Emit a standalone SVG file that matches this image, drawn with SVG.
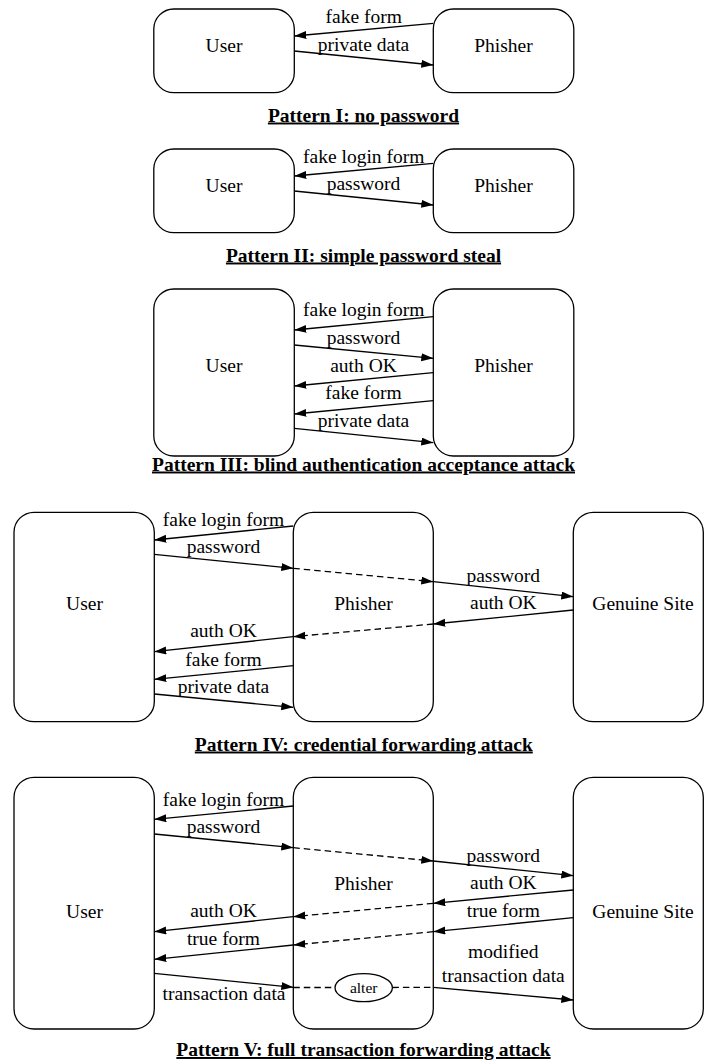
<svg xmlns="http://www.w3.org/2000/svg" width="704" height="1062" viewBox="0 0 704 1062">
<style>
  .box { fill: #fff; stroke: #000; stroke-width: 1.3; }
  .t { font-family: "Liberation Serif", "Times New Roman", serif; font-size: 19.5px; fill: #000; text-anchor: middle; }
  .title { font-family: "Liberation Serif", "Times New Roman", serif; font-size: 19.5px; font-weight: bold; fill: #000; text-anchor: middle; text-decoration: underline; }
  .small { font-family: "Liberation Serif", "Times New Roman", serif; font-size: 15.5px; fill: #000; text-anchor: middle; }
  .a { stroke: #000; stroke-width: 1.3; fill: none; marker-end: url(#ah); }
  .s { stroke: #000; stroke-width: 1.3; fill: none; }
  .d { stroke: #000; stroke-width: 1.3; fill: none; stroke-dasharray: 6.5 4; }
  .da { stroke: #000; stroke-width: 1.3; fill: none; stroke-dasharray: 6.5 4; marker-end: url(#ah); }
</style>
<defs>
  <marker id="ah" markerUnits="userSpaceOnUse" markerWidth="13" markerHeight="9" refX="12" refY="4" orient="auto">
    <path d="M0,0 L12,4 L0,8 Z" fill="#000"/>
  </marker>
</defs>
<rect width="704" height="1062" fill="#fff"/>

<!-- Pattern I -->
<g id="p1-user"><rect class="box" x="153.8" y="9" width="140.5" height="83.7" rx="20"/><text class="t" x="224" y="52">User</text></g>
<g id="p1-phisher"><rect class="box" x="433.3" y="9" width="140.5" height="83.7" rx="20"/><text class="t" x="503.5" y="52">Phisher</text></g>
<g id="p1-connectors">
  <line class="a" x1="433.3" y1="23.3" x2="294.3" y2="36"/>
  <line class="a" x1="294.3" y1="51" x2="433.3" y2="65"/>
  <text class="t" x="363.7" y="22.5">fake form</text>
  <text class="t" x="363.5" y="50.5">private data</text>
</g>
<text class="title" x="363.5" y="121.5">Pattern I: no password</text>

<!-- Pattern II -->
<g id="p2-user"><rect class="box" x="153.8" y="149" width="140.5" height="83.7" rx="20"/><text class="t" x="224" y="192">User</text></g>
<g id="p2-phisher"><rect class="box" x="433.3" y="149" width="140.5" height="83.7" rx="20"/><text class="t" x="503.5" y="192">Phisher</text></g>
<g id="p2-connectors">
  <line class="a" x1="433.3" y1="163.3" x2="294.3" y2="176"/>
  <line class="a" x1="294.3" y1="191" x2="433.3" y2="205"/>
  <text class="t" x="363.7" y="162.5">fake login form</text>
  <text class="t" x="363.5" y="190">password</text>
</g>
<text class="title" x="363.5" y="261.5">Pattern II: simple password steal</text>

<!-- Pattern III -->
<g id="p3-user"><rect class="box" x="153.8" y="289" width="140.5" height="167" rx="20"/><text class="t" x="224" y="372.3">User</text></g>
<g id="p3-phisher"><rect class="box" x="433.3" y="289" width="140.5" height="167" rx="20"/><text class="t" x="503.5" y="372.3">Phisher</text></g>
<g id="p3-connectors">
  <line class="a" x1="433.3" y1="316.7" x2="294.3" y2="330"/>
  <line class="a" x1="294.3" y1="345" x2="433.3" y2="358.3"/>
  <line class="a" x1="433.3" y1="372.7" x2="294.3" y2="386"/>
  <line class="a" x1="433.3" y1="400.7" x2="294.3" y2="414"/>
  <line class="a" x1="294.3" y1="428.3" x2="433.3" y2="442.7"/>
  <text class="t" x="363.7" y="316">fake login form</text>
  <text class="t" x="363.5" y="344">password</text>
  <text class="t" x="363.5" y="372.3">auth OK</text>
  <text class="t" x="363.5" y="399.3">fake form</text>
  <text class="t" x="363.5" y="426.7">private data</text>
</g>
<text class="title" x="363.5" y="470.5">Pattern III: blind authentication acceptance attack</text>

<!-- Pattern IV -->
<g id="p4-user"><rect class="box" x="14" y="512.3" width="140.3" height="209.4" rx="20"/><text class="t" x="84.5" y="610">User</text></g>
<g id="p4-phisher"><rect class="box" x="293.3" y="512.3" width="140" height="209.4" rx="20"/><text class="t" x="363.5" y="610">Phisher</text></g>
<g id="p4-genuine"><rect class="box" x="573.3" y="512.3" width="130" height="209.4" rx="20"/><text class="t" x="643" y="610">Genuine Site</text></g>
<g id="p4-connectors">
  <line class="a" x1="293.3" y1="526" x2="154.3" y2="540"/>
  <line class="a" x1="154.3" y1="554.3" x2="293.3" y2="568.3"/>
  <line class="da" x1="293.3" y1="568.3" x2="433.3" y2="581.7"/>
  <line class="a" x1="433.3" y1="581.7" x2="573.3" y2="596.7"/>
  <line class="a" x1="573.3" y1="610" x2="433.3" y2="624"/>
  <line class="da" x1="433.3" y1="624" x2="293.3" y2="636.7"/>
  <line class="a" x1="293.3" y1="636.7" x2="154.3" y2="651.7"/>
  <line class="a" x1="293.3" y1="665.7" x2="154.3" y2="679.3"/>
  <line class="a" x1="154.3" y1="694" x2="293.3" y2="707.3"/>
  <text class="t" x="223.5" y="525.7">fake login form</text>
  <text class="t" x="223.5" y="553.3">password</text>
  <text class="t" x="503.3" y="581.7">password</text>
  <text class="t" x="503.3" y="609.3">auth OK</text>
  <text class="t" x="223.5" y="637.3">auth OK</text>
  <text class="t" x="223.5" y="665.7">fake form</text>
  <text class="t" x="223.5" y="693.3">private data</text>
</g>
<text class="title" x="363.8" y="750.5">Pattern IV: credential forwarding attack</text>

<!-- Pattern V -->
<g id="p5-user"><rect class="box" x="14" y="777.3" width="140.3" height="251.7" rx="20"/><text class="t" x="84.5" y="918.3">User</text></g>
<g id="p5-phisher"><rect class="box" x="293.3" y="777.3" width="140" height="251.7" rx="20"/><text class="t" x="363.5" y="890">Phisher</text></g>
<g id="p5-genuine"><rect class="box" x="573.3" y="777.3" width="130" height="251.7" rx="20"/><text class="t" x="643" y="918.3">Genuine Site</text></g>
<g id="p5-alter"><ellipse class="box" cx="363.7" cy="987.7" rx="28.7" ry="14"/><text class="small" x="363.7" y="992.5">alter</text></g>
<g id="p5-connectors">
  <line class="a" x1="293.3" y1="806" x2="154.3" y2="819.3"/>
  <line class="a" x1="154.3" y1="834" x2="293.3" y2="847.7"/>
  <line class="da" x1="293.3" y1="847.7" x2="433.3" y2="861"/>
  <line class="a" x1="433.3" y1="861" x2="573.3" y2="875.7"/>
  <line class="a" x1="573.3" y1="890" x2="433.3" y2="903.3"/>
  <line class="da" x1="433.3" y1="903.3" x2="293.3" y2="916.7"/>
  <line class="a" x1="293.3" y1="916.7" x2="154.3" y2="931.7"/>
  <line class="a" x1="573.3" y1="917.7" x2="433.3" y2="931.7"/>
  <line class="da" x1="433.3" y1="931.7" x2="293.3" y2="945"/>
  <line class="a" x1="293.3" y1="945" x2="154.3" y2="959.3"/>
  <line class="a" x1="154.3" y1="973.3" x2="293.3" y2="987.3"/>
  <line class="d" x1="293.3" y1="987.5" x2="335" y2="987.5"/>
  <line class="d" x1="392.4" y1="987.5" x2="433.3" y2="987.3"/>
  <line class="a" x1="433.3" y1="987.3" x2="573.3" y2="1000"/>
  <text class="t" x="223.5" y="805.7">fake login form</text>
  <text class="t" x="223.5" y="833.3">password</text>
  <text class="t" x="503.3" y="861.7">password</text>
  <text class="t" x="503.3" y="889.3">auth OK</text>
  <text class="t" x="223.5" y="917.3">auth OK</text>
  <text class="t" x="503.3" y="917.3">true form</text>
  <text class="t" x="223.5" y="945">true form</text>
  <text class="t" x="503.3" y="958.3">modified</text>
  <text class="t" x="503.3" y="982.3">transaction data</text>
  <text class="t" x="224" y="1000">transaction data</text>
</g>
<text class="title" x="363.5" y="1056">Pattern V: full transaction forwarding attack</text>
</svg>
